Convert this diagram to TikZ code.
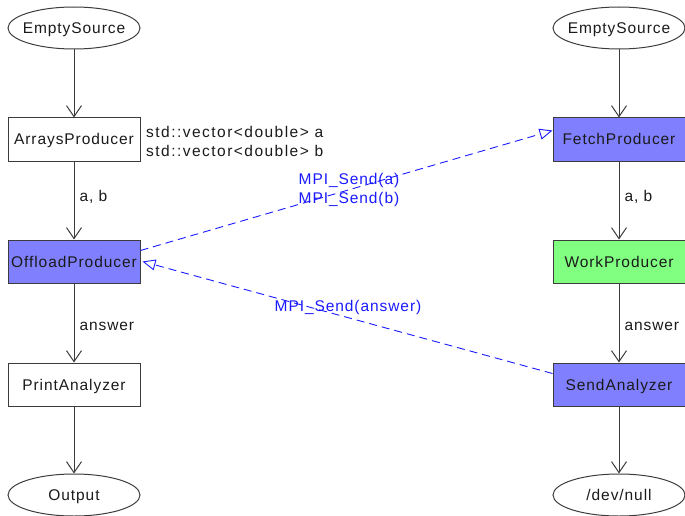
\documentclass[tikz,border=0pt]{standalone}
\usepackage{fontspec}
\setmainfont{Liberation Sans}[LetterSpace=6]
\usetikzlibrary{shapes.geometric,arrows.meta}
\definecolor{edgegray}{HTML}{3C3C3C}
\definecolor{txt}{HTML}{1A1A1A}
\definecolor{bluefill}{HTML}{8080FF}
\definecolor{greenfill}{HTML}{80FF80}
\definecolor{mpiblue}{HTML}{1A1AFF}
\tikzset{
  base/.style={draw=edgegray, line width=1pt, text=txt, font=\fontsize{15.5}{18}\selectfont, inner sep=0pt, text height=11pt, text depth=0pt},
  procbox/.style={base, rectangle, minimum width=132pt, minimum height=43pt},
  termell/.style={base, ellipse, minimum width=132pt, minimum height=42pt, text width=0pt, align=center},
  bluebox/.style={procbox, fill=bluefill},
  greenbox/.style={procbox, fill=greenfill},
  flow/.style={draw=edgegray, line width=1pt, -{Straight Barb[length=11pt,width=15pt,line width=1pt]}},
  mpi/.style={draw=mpiblue, line width=0.9pt, dash pattern=on 8pt off 5pt, -{Triangle[open,length=13pt,width=11pt,line width=0.9pt]}},
  flowlabel/.style={text=txt, font=\fontsize{15.5}{18}\selectfont, inner sep=0pt, anchor=west},
  mpilabel/.style={text=mpiblue, font=\fontsize{15.5}{19}\selectfont, inner sep=0pt, align=center}
}
\begin{document}
\begin{tikzpicture}[x=1pt,y=-1pt]
\useasboundingbox (0,0) rectangle (685,516);
% left column
\node[termell] (es1) at (74,28) {\makebox[0pt]{EmptySource}};
\node[procbox] (ap) at (74,139.5) {ArraysProducer};
\node[bluebox] (op) at (74,261.5) {OffloadProducer};
\node[procbox] (pa) at (74,384.5) {PrintAnalyzer};
\node[termell] (out) at (74,495) {\makebox[0pt]{Output}};
% right column
\node[termell] (es2) at (619,28) {\makebox[0pt]{EmptySource}};
\node[bluebox] (fp) at (619,139.5) {FetchProducer};
\node[greenbox] (wp) at (619,261.5) {WorkProducer};
\node[bluebox] (sa) at (619,384.5) {SendAnalyzer};
\node[termell] (dn) at (619,495) {\makebox[0pt]{/dev/null}};
% flows
\draw[flow] (es1) -- (ap);
\draw[flow] (ap) -- node[flowlabel, xshift=5pt, yshift=4pt] {a, b} (op);
\draw[flow] (op) -- node[flowlabel, xshift=5pt, yshift=-3pt] {answer} (pa);
\draw[flow] (pa) -- (out);
\draw[flow] (es2) -- (fp);
\draw[flow] (fp) -- node[flowlabel, xshift=5pt, yshift=4pt] {a, b} (wp);
\draw[flow] (wp) -- node[flowlabel, xshift=5pt, yshift=-3pt] {answer} (sa);
\draw[flow] (sa) -- (dn);
% data label
\node[text=txt, font=\fontsize{15.5}{19}\selectfont\addfontfeature{LetterSpace=9.5}, inner sep=0pt, anchor=west, align=left] (vec) at (146,141) {std::vector<double> a\\std::vector<double> b};
% MPI
\draw[mpi] ([yshift=11pt]op.east) -- ([yshift=9pt]fp.west);
\draw[mpi] ([yshift=11pt]sa.west) -- ([xshift=2pt]op.east);
\node[mpilabel] (m1) at (349,189.5) {MPI\_Send(a)\\MPI\_Send(b)};
\node[mpilabel] (m2) at (348,307) {MPI\_Send(answer)};
\end{tikzpicture}
\end{document}
